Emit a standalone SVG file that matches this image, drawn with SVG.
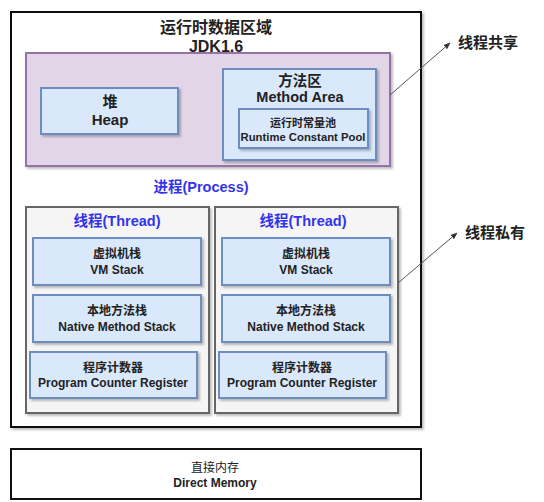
<svg xmlns="http://www.w3.org/2000/svg" width="544" height="502" viewBox="0 0 544 502">
<defs>
<filter id="sh" x="-5%" y="-5%" width="115%" height="120%">
<feDropShadow dx="2" dy="2" stdDeviation="1" flood-color="#000" flood-opacity="0.25"/>
</filter>
<marker id="arr" viewBox="0 0 10 10" refX="9" refY="5" markerWidth="7" markerHeight="7" orient="auto">
<path d="M0,1 L10,5 L0,9 Z" fill="#333"/>
</marker>
</defs>
<style>
text{font-family:"Liberation Sans","Noto Sans CJK SC",sans-serif;text-anchor:middle;fill:#222}
.b{font-weight:bold}
.blue{fill:#3333ee;font-weight:bold}
.lb{fill:#dae8fc;stroke:#6c8ebf;stroke-width:2}
.pu{fill:#e1d5e7;stroke:#9673a6;stroke-width:2}
.gr{fill:#f5f5f5;stroke:#666;stroke-width:2}
.wh{fill:#fff;stroke:#111;stroke-width:2}
.conn{stroke:#555;stroke-width:1;fill:none;marker-end:url(#arr)}
</style>
<rect width="544" height="502" fill="#fff"/>
<g id="runtime-area">
<rect class="wh" x="11" y="12" width="410" height="415" filter="url(#sh)"/>
<text class="b" x="216" y="33" font-size="16">运行时数据区域</text>
<text class="b" x="216" y="52" font-size="16">JDK1.6</text>
</g>
<g id="shared">
<rect class="pu" x="26" y="53" width="364" height="113" filter="url(#sh)"/>
</g>
<g id="heap">
<rect class="lb" x="41" y="88" width="137" height="46" filter="url(#sh)"/>
<text class="b" x="110" y="107" font-size="15">堆</text>
<text class="b" x="110" y="125" font-size="15">Heap</text>
</g>
<g id="method-area">
<rect class="lb" x="223" y="69" width="153" height="91" filter="url(#sh)"/>
<text class="b" x="300" y="86" font-size="14.5">方法区</text>
<text class="b" x="300" y="102" font-size="14.5">Method Area</text>
</g>
<g id="constant-pool">
<rect class="lb" x="239" y="109" width="129" height="39" filter="url(#sh)"/>
<text class="b" x="303" y="127" font-size="11">运行时常量池</text>
<text class="b" x="303" y="141" font-size="11.3">Runtime Constant Pool</text>
</g>
<g id="process-label">
<text class="blue" x="201" y="192" font-size="14.5">进程(Process)</text>
</g>
<g id="thread1">
<rect class="gr" x="26" y="207" width="183" height="206" filter="url(#sh)"/>
<text class="blue" x="117" y="226" font-size="14.5">线程(Thread)</text>
</g>
<g id="vmstack1">
<rect class="lb" x="33" y="238" width="168" height="47" filter="url(#sh)"/>
<text class="b" x="117" y="258" font-size="12">虚拟机栈</text>
<text class="b" x="117" y="273.5" font-size="12">VM Stack</text>
</g>
<g id="native1">
<rect class="lb" x="33" y="295" width="168" height="47" filter="url(#sh)"/>
<text class="b" x="117" y="315" font-size="12">本地方法栈</text>
<text class="b" x="117" y="330.5" font-size="12">Native Method Stack</text>
</g>
<g id="pc1">
<rect class="lb" x="30" y="352" width="167" height="46" filter="url(#sh)"/>
<text class="b" x="113" y="372" font-size="12">程序计数器</text>
<text class="b" x="113" y="387" font-size="12">Program Counter Register</text>
</g>
<g id="thread2">
<rect class="gr" x="215" y="207" width="183" height="206" filter="url(#sh)"/>
<text class="blue" x="303" y="226" font-size="14.5">线程(Thread)</text>
</g>
<g id="vmstack2">
<rect class="lb" x="222" y="238" width="168" height="47" filter="url(#sh)"/>
<text class="b" x="306" y="258" font-size="12">虚拟机栈</text>
<text class="b" x="306" y="273.5" font-size="12">VM Stack</text>
</g>
<g id="native2">
<rect class="lb" x="222" y="295" width="168" height="47" filter="url(#sh)"/>
<text class="b" x="306" y="315" font-size="12">本地方法栈</text>
<text class="b" x="306" y="330.5" font-size="12">Native Method Stack</text>
</g>
<g id="pc2">
<rect class="lb" x="219" y="352" width="167" height="46" filter="url(#sh)"/>
<text class="b" x="302" y="372" font-size="12">程序计数器</text>
<text class="b" x="302" y="387" font-size="12">Program Counter Register</text>
</g>
<g id="direct-memory">
<rect class="wh" x="11" y="449" width="410" height="50"/>
<text x="215" y="472" font-size="12">直接内存</text>
<text class="b" x="215" y="487" font-size="12">Direct Memory</text>
</g>
<g id="label-shared">
<text class="b" x="488" y="48" font-size="15">线程共享</text>
</g>
<g id="label-private">
<text class="b" x="495" y="238" font-size="15">线程私有</text>
</g>
<g id="connectors">
<line class="conn" x1="390" y1="95" x2="450" y2="43"/>
<line class="conn" x1="398" y1="283" x2="457" y2="233"/>
</g>
</svg>
